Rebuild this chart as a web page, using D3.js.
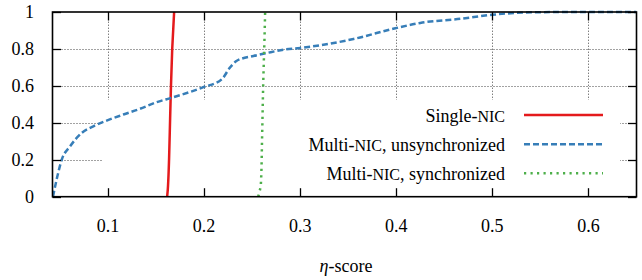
<!DOCTYPE html>
<html>
<head>
<meta charset="utf-8">
<script src="https://cdn.jsdelivr.net/npm/d3@7"></script>
<style>
  html, body { margin: 0; padding: 0; background: #fff; }
</style>
</head>
<body>
<svg id="chart" width="642" height="280"></svg>
<script>
// ---- Data ----
const seriesNames = ["Single-NIC", "Multi-NIC, unsynchronized", "Multi-NIC, synchronized"];
const xTicks = [0.1, 0.2, 0.3, 0.4, 0.5, 0.6];
const yTicks = [0, 0.2, 0.4, 0.6, 0.8, 1];

const singleX = [0.1615, 0.1622, 0.1628, 0.1635, 0.1645, 0.1655, 0.1668, 0.1688];
const singleY = [0.0, 0.04, 0.1, 0.2, 0.4, 0.6, 0.8, 1.0];

const unsyncX = [0.0427, 0.0472, 0.0518, 0.0604, 0.0726, 0.0847, 0.0986, 0.116, 0.1333, 0.1507, 0.1663, 0.1993, 0.2184, 0.227, 0.234, 0.2514, 0.2653, 0.2826, 0.300, 0.3174, 0.3555, 0.399, 0.425, 0.4667, 0.4997, 0.5465, 0.5986, 0.65];
const unsyncY = [0.0, 0.109, 0.2, 0.272, 0.345, 0.381, 0.412, 0.445, 0.476, 0.512, 0.536, 0.593, 0.636, 0.70, 0.736, 0.762, 0.778, 0.796, 0.805, 0.817, 0.854, 0.912, 0.941, 0.963, 0.985, 0.999, 1.0, 1.0];

const syncX = [0.2563, 0.2578, 0.2591, 0.2604, 0.2615, 0.2630, 0.2635];
const syncY = [0.0, 0.03, 0.07, 0.34, 0.61, 0.89, 1.0];

// ---- Layout ----
const FONT = "Liberation Serif";
const svg = d3.select("#chart");
const L = 52.5, R = 636.5, T = 12, B = 196.7;
const x = d3.scaleLinear().domain([0.0422, 0.65]).range([L, R]);
const y = d3.scaleLinear().domain([0, 1]).range([B, T]);

const colors = ["#e41a1c", "#377eb8", "#4daf4a"];
const dashes = [null, "6,3", "2.2,4.3"];
const zip = (xs, ys) => xs.map((v, i) => [v, ys[i]]);
const series = [zip(singleX, singleY), zip(unsyncX, unsyncY), zip(syncX, syncY)];

// grid
const grid = svg.append("g").attr("stroke", "#444").attr("stroke-width", 1).attr("stroke-dasharray", "1,2");
grid.selectAll("line.gx").data(xTicks).join("line")
  .attr("x1", d => Math.round(x(d)) + 0.5).attr("x2", d => Math.round(x(d)) + 0.5)
  .attr("y1", B).attr("y2", T);
grid.selectAll("line.gy").data(yTicks.filter(d => d > 0 && d < 1)).join("line")
  .attr("class", "gy")
  .attr("x1", L).attr("x2", R)
  .attr("y1", d => Math.round(y(d)) + 0.5).attr("y2", d => Math.round(y(d)) + 0.5);

// opaque legend box
const legBox = { x0: 103, x1: 620, y0: 100, y1: B };
svg.append("rect").attr("x", legBox.x0).attr("y", legBox.y0)
  .attr("width", legBox.x1 - legBox.x0).attr("height", legBox.y1 - legBox.y0)
  .attr("fill", "#fff");

// clip for data
svg.append("clipPath").attr("id", "clip").append("rect")
  .attr("x", L).attr("y", T - 2).attr("width", R - L).attr("height", B - T + 2);

const line = d3.line().x(d => x(d[0])).y(d => y(d[1])).curve(d3.curveMonotoneX);
const lineY = d3.line().x(d => x(d[0])).y(d => y(d[1])).curve(d3.curveMonotoneY);

series.forEach((s, i) => {
  svg.append("path")
    .attr("clip-path", "url(#clip)")
    .attr("d", i === 1 ? line(s) : lineY(s))
    .attr("fill", "none")
    .attr("stroke", colors[i])
    .attr("stroke-width", 2.5)
    .attr("stroke-dasharray", dashes[i]);
});

// axes (ticks inward, mirrored)
const tickLen = 8.5;
const axG = svg.append("g").attr("stroke", "#000").attr("stroke-width", 1.3);
xTicks.forEach(d => {
  const px = Math.round(x(d)) + 0.5;
  axG.append("line").attr("x1", px).attr("x2", px).attr("y1", B).attr("y2", B - tickLen);
  axG.append("line").attr("x1", px).attr("x2", px).attr("y1", T).attr("y2", T + tickLen);
});
yTicks.forEach(d => {
  const py = Math.round(y(d)) + 0.5;
  axG.append("line").attr("x1", L).attr("x2", L + tickLen).attr("y1", py).attr("y2", py);
  axG.append("line").attr("x1", R).attr("x2", R - tickLen).attr("y1", py).attr("y2", py);
});
svg.append("rect").attr("x", L).attr("y", T).attr("width", R - L).attr("height", B - T)
  .attr("fill", "none").attr("stroke", "#000").attr("stroke-width", 1.6);

// tick labels
const fmtY = d => (d === 0 ? "0" : d === 1 ? "1" : d.toFixed(1));
svg.append("g").selectAll("text").data(xTicks).join("text")
  .style("font-family", FONT)
  .attr("x", d => x(d)).attr("y", 232)
  .attr("text-anchor", "middle").attr("font-size", 18)
  .text(d => d.toFixed(1));
svg.append("g").selectAll("text").data(yTicks).join("text")
  .style("font-family", FONT)
  .attr("x", 34).attr("y", d => y(d) + 6)
  .attr("text-anchor", "end").attr("font-size", 18)
  .text(fmtY);

// axis title
const xt = svg.append("text").attr("x", 346).attr("y", 272)
  .style("font-family", FONT)
  .attr("text-anchor", "middle").attr("font-size", 18);
xt.append("tspan").attr("font-style", "italic").text("η");
xt.append("tspan").text("-score");

// legend
const legY = [115, 144.3, 173.3];
seriesNames.forEach((name, i) => {
  const ly = legY[i];
  svg.append("line").attr("x1", 524).attr("x2", 603).attr("y1", ly).attr("y2", ly)
    .attr("stroke", colors[i]).attr("stroke-width", 2.5)
    .attr("stroke-dasharray", dashes[i]);
  const t = svg.append("text").attr("x", 505).attr("y", ly + 6.5)
    .style("font-family", FONT)
    .attr("text-anchor", "end").attr("font-size", 18);
  const parts = name.split("NIC");
  t.append("tspan").text(parts[0]);
  t.append("tspan").attr("font-size", 16).text("NIC");
  t.append("tspan").text(parts[1]);
});
</script>
</body>
</html>
